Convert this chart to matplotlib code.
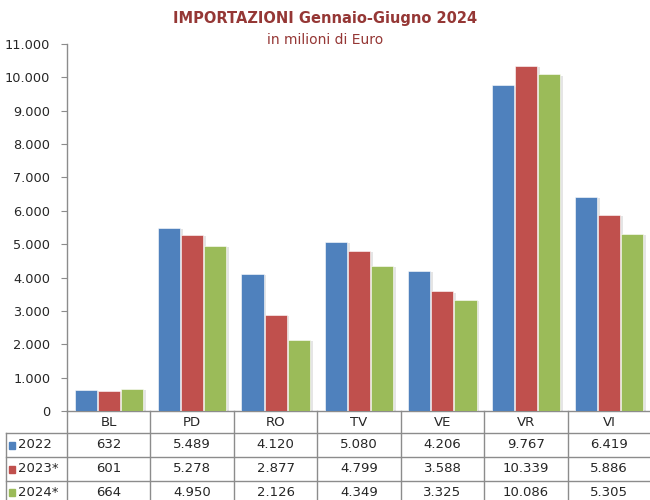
#!/usr/bin/env python3
"""Importazioni Gennaio-Giugno 2024 per provincia, con tabella dati sotto il grafico."""

import matplotlib
matplotlib.use("Agg")
import matplotlib.pyplot as plt
import matplotlib.patheffects as pe
from matplotlib.transforms import blended_transform_factory
from matplotlib.ticker import FuncFormatter
import numpy as np

provinces = ["BL", "PD", "RO", "TV", "VE", "VR", "VI"]
years = ["2022", "2023*", "2024*"]
v2022 = [632, 5489, 4120, 5080, 4206, 9767, 6419]
v2023 = [601, 5278, 2877, 4799, 3588, 10339, 5886]
v2024 = [664, 4950, 2126, 4349, 3325, 10086, 5305]
series = [v2022, v2023, v2024]
colors = ["#4F81BD", "#C0504D", "#9BBB59"]

TITLE_RED = "#953735"
GRID_GRAY = "#8C8C8C"
TEXT = "#262626"

W, H = 650, 500
plt.rcParams["font.family"] = ["DejaVu Sans"]
fig = plt.figure(figsize=(W / 100, H / 100), dpi=100)


def fx(px):
    return px / W


def fy(py):
    return 1 - py / H


# plot area: x 67..651 px, y 44..411 px
ax = fig.add_axes([fx(67), fy(411), fx(651) - fx(67), fy(44) - fy(411)])

x = np.arange(len(provinces))
bw = 0.265
for i, (vals, c) in enumerate(zip(series, colors)):
    bars = ax.bar(x + (i - 1) * (bw + 0.012), vals, width=bw, color=c,
                  edgecolor="white", linewidth=0.4, zorder=3)
    for b in bars:
        b.set_path_effects([pe.SimplePatchShadow(offset=(2, -1), shadow_rgbFace="#000000", alpha=0.1),
                            pe.Normal()])

ax.set_xlim(-0.5, len(provinces) - 0.5)
ax.set_ylim(0, 11000)
ax.set_yticks(np.arange(0, 11001, 1000))
ax.yaxis.set_major_formatter(FuncFormatter(lambda v, p: f"{int(v):,}".replace(",", ".")))
ax.tick_params(axis="y", direction="out", length=4, color=GRID_GRAY, labelsize=9.3,
               labelcolor=TEXT, pad=8)
ax.set_xticks([])
for s in ["top", "right"]:
    ax.spines[s].set_visible(False)
for s in ["left", "bottom"]:
    ax.spines[s].set_color(GRID_GRAY)
    ax.spines[s].set_linewidth(1.0)

fig.text(0.5, fy(18), "IMPORTAZIONI Gennaio-Giugno 2024", ha="center", va="center",
         fontsize=10.5, fontweight="bold", color=TITLE_RED)
fig.text(0.5, fy(40), "in milioni di Euro", ha="center", va="center",
         fontsize=10, color=TITLE_RED)

# data table below the axis
tr = blended_transform_factory(ax.transData, fig.transFigure)
row_lines = [433, 457, 481]
row_centers = [422, 445, 469, 492]

for k in range(len(provinces) + 1):
    xb = k - 0.5
    ax.plot([xb, xb], [fy(411), fy(H + 5)], transform=tr, color=GRID_GRAY,
            lw=1.0, clip_on=False)
fig.add_artist(plt.Line2D([fx(6), fx(6)], [fy(433), fy(H + 5)], color=GRID_GRAY, lw=1.0))
for ry in row_lines:
    fig.add_artist(plt.Line2D([fx(6), 1.0], [fy(ry), fy(ry)], color=GRID_GRAY, lw=1.0))

for j, name in enumerate(provinces):
    ax.text(j, fy(row_centers[0]), name, transform=tr, ha="center", va="center",
            fontsize=9.5, color=TEXT)

for i, (yr, vals, c) in enumerate(zip(years, series, colors)):
    cy = fy(row_centers[i + 1])
    fig.add_artist(plt.Rectangle((fx(9), cy - 3.5 / H), 6 / W, 7 / H, color=c,
                                 transform=fig.transFigure))
    fig.text(fx(18), cy, yr, ha="left", va="center", fontsize=9.5, color=TEXT)
    for j, v in enumerate(vals):
        ax.text(j, cy, f"{v:,}".replace(",", "."), transform=tr, ha="center",
                va="center", fontsize=9.5, color=TEXT)

fig.savefig("out.png", dpi=100)
